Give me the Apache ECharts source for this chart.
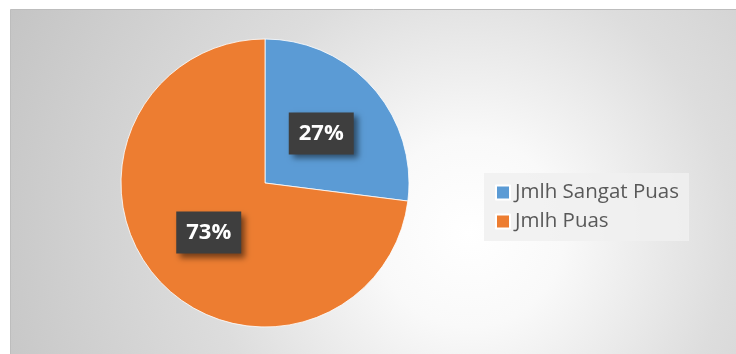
<!DOCTYPE html>
<html>
<head>
<meta charset="utf-8">
<script src="https://cdn.jsdelivr.net/npm/echarts@6/dist/echarts.min.js"></script>
<style>
  html, body { margin: 0; padding: 0; background: #ffffff; }
  #chart { width: 736px; height: 354px; }
</style>
</head>
<body>
<div id="chart"></div>
<script>
// Survey answers: share of respondents per satisfaction level
const categories = ['Jmlh Sangat Puas', 'Jmlh Puas'];
const shares = [27, 73];
const colors = ['#5b9bd5', '#ed7d31'];

const chart = echarts.init(document.getElementById('chart'));
chart.setOption({
  animation: false,
  graphic: [{
    type: 'rect',
    silent: true,
    z: -10,
    shape: { x: 10.5, y: 9.5, width: 740, height: 360 },
    style: {
      fill: new echarts.graphic.RadialGradient(0.62, 0.62, 1.45, [
        { offset: 0, color: '#ffffff' },
        { offset: 0.18, color: '#f9f9f9' },
        { offset: 0.5, color: '#dddddd' },
        { offset: 1, color: '#c3c3c3' }
      ]),
      stroke: '#bdbdbd',
      lineWidth: 1
    }
  }],
  legend: {
    orient: 'vertical',
    left: 484,
    top: 173,
    padding: [9, 10, 9, 11],
    backgroundColor: 'rgba(240,240,240,0.85)',
    itemWidth: 14,
    itemHeight: 14,
    itemGap: 8,
    icon: 'rect',
    data: categories,
    textStyle: {
      fontFamily: 'Open Sans',
      fontSize: 20.5,
      color: '#595959',
      lineHeight: 20
    }
  },
  series: [{
    type: 'pie',
    center: [265, 183],
    radius: 144,
    startAngle: 90,
    clockwise: true,
    avoidLabelOverlap: false,
    itemStyle: { borderColor: '#ffffff', borderWidth: 0.8 },
    label: {
      show: true,
      position: 'inside',
      formatter: '{c}%',
      fontFamily: 'Open Sans',
      fontWeight: 'bold',
      fontSize: 22,
      lineHeight: 26,
      color: '#ffffff',
      padding: [8, 10, 8, 10],
      backgroundColor: '#3e3e3e',
      shadowColor: 'rgba(0,0,0,0.5)',
      shadowBlur: 6,
      shadowOffsetX: 4,
      shadowOffsetY: 4
    },
    labelLine: { show: false },
    data: categories.map((name, i) => ({
      name: name,
      value: shares[i],
      itemStyle: { color: colors[i] }
    }))
  }]
});
</script>
</body>
</html>
